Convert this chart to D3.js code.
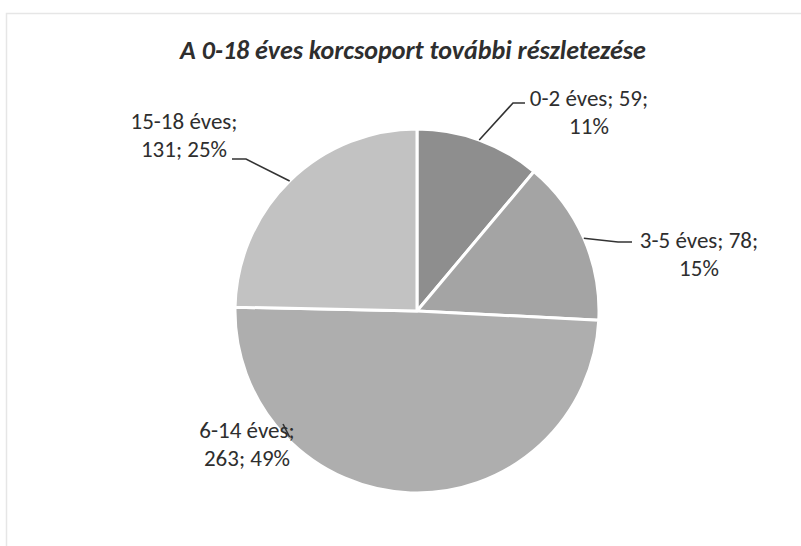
<!DOCTYPE html>
<html>
<head>
    <meta charset="utf-8">
    <title>A 0-18 éves korcsoport</title>
    <script src="https://d3js.org/d3.v7.min.js"></script>
    <style>
        body {
            margin: 0;
            background-color: #ffffff;
        }
        text {
            font-family: Carlito, Lato, "Liberation Sans", sans-serif;
            fill: #2e2e2e;
        }
    </style>
</head>
<body>
    <script>
        var width = 801;
        var height = 546;

        // data
        const categories = ["0-2 éves", "3-5 éves", "6-14 éves", "15-18 éves"];
        const values = [59, 78, 263, 131];
        const percents = ["11%", "15%", "49%", "25%"];
        const sliceColors = ["#8e8e8e", "#a4a4a4", "#aeaeae", "#c2c2c2"];

        // label layout: two lines per slice
        const labelLines = [
            [categories[0] + "; " + values[0] + ";", percents[0]],
            [categories[1] + "; " + values[1] + ";", percents[1]],
            [categories[2] + ";", values[2] + "; " + percents[2]],
            [categories[3] + ";", values[3] + "; " + percents[3]]
        ];
        const labelPos = [
            {x: 589, y: 106},
            {x: 699, y: 248},
            {x: 247, y: 438},
            {x: 184, y: 129}
        ];
        // where each leader leaves the label
        const leaderEnd = [
            [[525, 103], [513, 103]],
            [[632, 242], [618, 242]],
            [[283, 424], [283, 424]],
            [[232, 159], [246, 159]]
        ];

        var cx = 417, cy = 311, r = 182;

        var svg = d3.select("body")
            .append("svg")
            .attr("width", width)
            .attr("height", height);

        // faint chart frame
        svg.append("rect")
            .attr("x", 6.5)
            .attr("y", 13.5)
            .attr("width", 900)
            .attr("height", 600)
            .attr("fill", "none")
            .attr("stroke", "#e6e6e6")
            .attr("stroke-width", 1.5);

        svg.append("text")
            .attr("x", 413)
            .attr("y", 59)
            .attr("text-anchor", "middle")
            .style("font-size", "26px")
            .style("font-weight", "bold")
            .style("font-style", "italic")
            .text("A 0-18 éves korcsoport további részletezése");

        var pie = d3.pie().sort(null).value(d => d);
        var arcs = pie(values);

        var arc = d3.arc().innerRadius(0).outerRadius(r);

        var g = svg.append("g")
            .attr("transform", "translate(" + cx + "," + cy + ")");

        g.selectAll("path")
            .data(arcs)
            .enter()
            .append("path")
            .attr("d", arc)
            .attr("fill", (d, i) => sliceColors[i])
            .attr("stroke", "#ffffff")
            .attr("stroke-width", 3)
            .attr("stroke-linejoin", "round");

        // leader lines
        svg.selectAll("polyline.leader")
            .data(arcs)
            .enter()
            .append("polyline")
            .attr("class", "leader")
            .attr("points", function (d, i) {
                var a = (d.startAngle + d.endAngle) / 2;
                var p;
                if (i == 2) {
                    p = [cx - Math.sqrt(r * r - 128 * 128) + 2, cy + 126];
                } else {
                    p = [cx + r * Math.sin(a), cy - r * Math.cos(a)];
                }
                var e = leaderEnd[i];
                return [e[0], e[1], p].map(q => q.join(",")).join(" ");
            })
            .attr("fill", "none")
            .attr("stroke", "#333333")
            .attr("stroke-width", 1.6);

        var labels = svg.selectAll("text.lab")
            .data(labelLines)
            .enter()
            .append("text")
            .attr("class", "lab")
            .attr("text-anchor", "middle")
            .style("font-size", "23px");

        labels.selectAll("tspan")
            .data((d, i) => d.map(s => ({s: s, i: i})))
            .enter()
            .append("tspan")
            .attr("x", d => labelPos[d.i].x)
            .attr("y", (d, j) => labelPos[d.i].y + j * 28)
            .text(d => d.s);
    </script>
</body>
</html>
